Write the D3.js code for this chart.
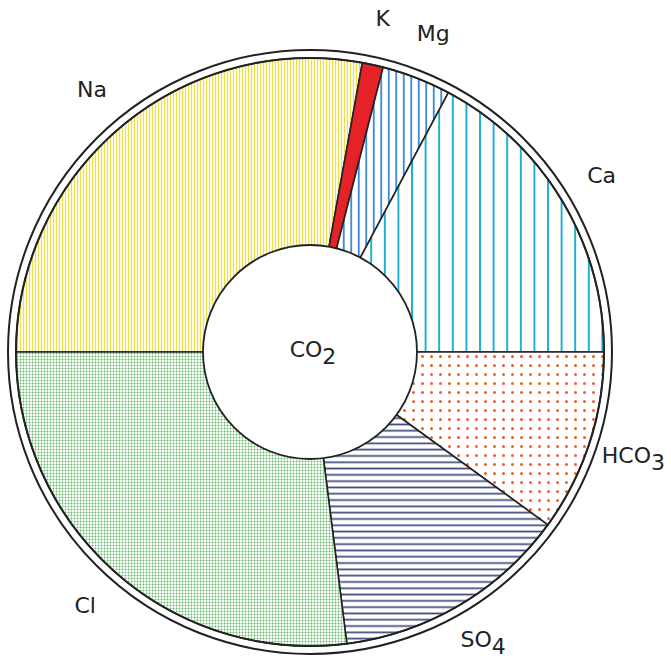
<!DOCTYPE html>
<html>
<head>
<meta charset="utf-8">
<script src="https://cdn.jsdelivr.net/npm/d3@7"></script>
<style>
  body { margin: 0; background: #fff; }
  .label { font-family: "DejaVu Sans", sans-serif; font-size: 22px; fill: #222; }
</style>
</head>
<body>
<svg id="chart" width="671" height="660"></svg>
<script>
// ion shares in meq % of their own group (cations top half, anions bottom half)
const ions = ["Na", "K", "Mg", "Ca", "HCO3", "SO4", "Cl"]
const shares = [55.7, 2.3, 7.6, 34.4, 20, 26, 54]
const labels = [["Na", ""], ["K", ""], ["Mg", ""], ["Ca", ""], ["HCO", "3"], ["SO", "4"], ["Cl", ""]]
const centerLabel = ["CO", "2"]

const data = ions.map((d, i) => ({ion: d, value: shares[i], label: labels[i]}))

const svg = d3.select("#chart")
const cx = 310, cy = 352
const rInner = 107, rPie = 294, rRing = 302, rLabel = 340

// fill patterns
const defs = svg.append("defs")
function linePattern(id, size, vertical, color, width) {
  const p = defs.append("pattern").attr("id", id)
    .attr("patternUnits", "userSpaceOnUse")
    .attr("width", size).attr("height", size)
  p.append("rect").attr("width", size).attr("height", size).attr("fill", "#fff")
  if (vertical) {
    p.append("line").attr("x1", size / 2).attr("x2", size / 2).attr("y1", 0).attr("y2", size)
      .attr("stroke", color).attr("stroke-width", width)
  } else {
    p.append("line").attr("y1", size / 2).attr("y2", size / 2).attr("x1", 0).attr("x2", size)
      .attr("stroke", color).attr("stroke-width", width)
  }
}
function dotPattern(id, size, color, r) {
  const p = defs.append("pattern").attr("id", id)
    .attr("patternUnits", "userSpaceOnUse")
    .attr("width", size).attr("height", size)
  p.append("rect").attr("width", size).attr("height", size).attr("fill", "#fff")
  p.append("circle").attr("cx", size / 2).attr("cy", size / 2).attr("r", r).attr("fill", color)
}
linePattern("p-Na", 3, true, "#ede04a", 1.3)
linePattern("p-Mg", 7.5, true, "#2f80d0", 1.7)
linePattern("p-Ca", 13.6, true, "#1cb0d2", 2)
linePattern("p-SO4", 6.3, false, "#3e4b7c", 1.7)
dotPattern("p-HCO3", 9, "#f0602c", 1.5)
dotPattern("p-Cl", 3, "#5fb862", 0.95)

const fills = {Na: "url(#p-Na)", K: "#e52228", Mg: "url(#p-Mg)", Ca: "url(#p-Ca)",
  HCO3: "url(#p-HCO3)", SO4: "url(#p-SO4)", Cl: "url(#p-Cl)"}

const pie = d3.pie().value(d => d.value).sort(null)
  .startAngle(-Math.PI / 2).endAngle(3 * Math.PI / 2)
const arcs = pie(data)
const arc = d3.arc().innerRadius(0).outerRadius(rPie)
const labelArc = d3.arc().innerRadius(rLabel).outerRadius(rLabel)

const g = svg.append("g").attr("transform", `translate(${cx},${cy})`)

// outer ring
g.append("circle").attr("r", rRing).attr("fill", "none").attr("stroke", "#222").attr("stroke-width", 2)

g.selectAll(".slice")
  .data(arcs)
  .join("path")
  .attr("class", "slice")
  .attr("d", arc)
  .attr("fill", d => fills[d.data.ion])
  .attr("stroke", "#222")
  .attr("stroke-width", 1.6)

g.append("circle").attr("r", rPie).attr("fill", "none").attr("stroke", "#222").attr("stroke-width", 2)

// centre circle
g.append("circle").attr("r", rInner).attr("fill", "#fff").attr("stroke", "#222").attr("stroke-width", 1.8)

function subText(sel, parts) {
  sel.append("tspan").text(parts[0])
  if (parts[1]) sel.append("tspan").attr("dy", 7).text(parts[1])
}

g.selectAll(".ionlabel")
  .data(arcs)
  .join("text")
  .attr("class", "label ionlabel")
  .attr("text-anchor", "middle")
  .attr("x", d => labelArc.centroid(d)[0])
  .attr("y", d => labelArc.centroid(d)[1] + (d.data.ion === "SO4" ? 2 : 6))
  .each(function(d) { subText(d3.select(this), d.data.label) })

g.append("text").attr("class", "label")
  .attr("text-anchor", "middle")
  .attr("x", 3).attr("y", 5)
  .call(subText, centerLabel)
</script>
</body>
</html>
